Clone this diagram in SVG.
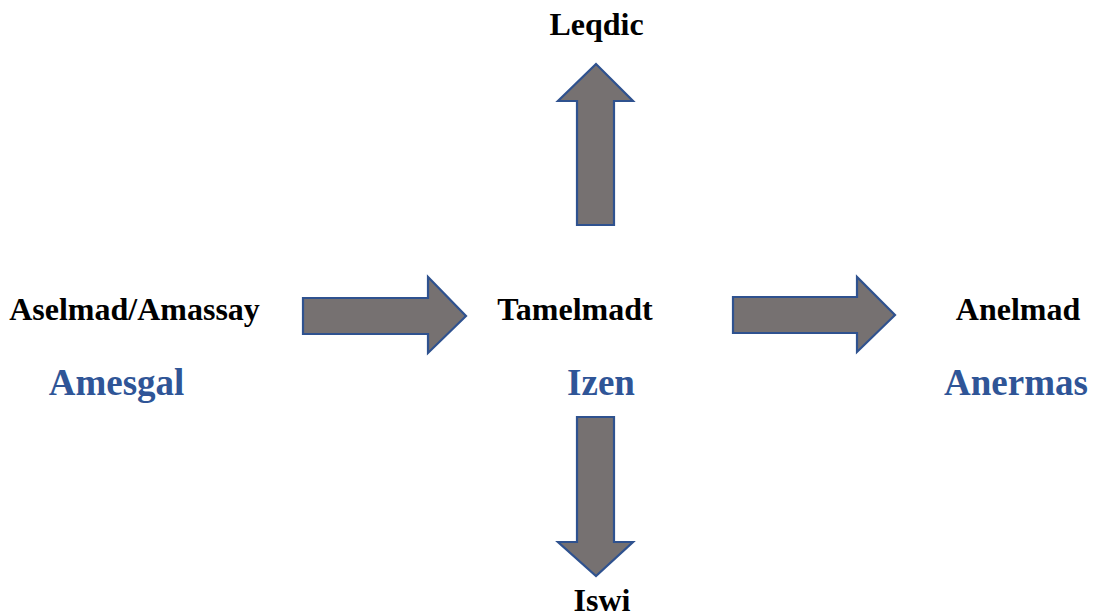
<svg xmlns="http://www.w3.org/2000/svg" width="1093" height="616" viewBox="0 0 1093 616">
<style>
.arr{fill:#767171;stroke:#2F528F;stroke-width:2.2;stroke-linejoin:miter}
.lbl{font-family:"Liberation Serif","Times New Roman",serif;font-weight:bold;font-size:32px;fill:#000;text-anchor:middle}
.sub{font-family:"Liberation Serif","Times New Roman",serif;font-weight:bold;font-size:37px;fill:#2F5597;text-anchor:middle}
</style>
<rect width="1093" height="616" fill="#fff"/>
<g id="connectors">
<polygon class="arr" points="577,225 577,101 558,101 596,64 633,101 614,101 614,225"/>
<polygon class="arr" points="577,417 614,417 614,542 633,542 596,576 558,542 577,542"/>
<polygon class="arr" points="303,298 428,298 428,277 466,316 428,353 428,334 303,334"/>
<polygon class="arr" points="733,297 857,297 857,277 895,315 857,352 857,333 733,333"/>
</g>
<g id="node-leqdic"><text class="lbl" x="596.5" y="35">Leqdic</text></g>
<g id="node-aselmad"><text class="lbl" x="134.5" y="320">Aselmad/Amassay</text><text class="sub" x="116.5" y="395">Amesgal</text></g>
<g id="node-tamelmadt"><text class="lbl" x="575" y="320">Tamelmadt</text><text class="sub" x="601" y="395">Izen</text></g>
<g id="node-anelmad"><text class="lbl" x="1018" y="320">Anelmad</text><text class="sub" x="1016" y="395">Anermas</text></g>
<g id="node-iswi"><text class="lbl" x="602" y="611">Iswi</text></g>
</svg>
